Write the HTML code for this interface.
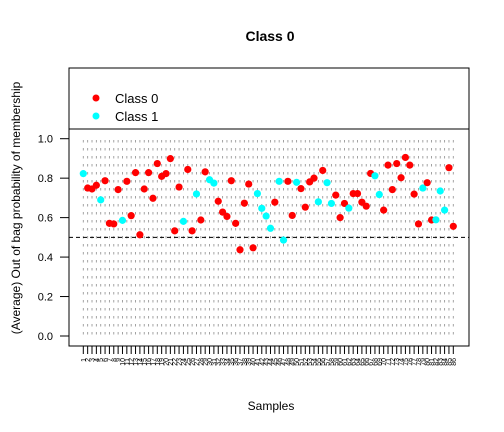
<!DOCTYPE html>
<html><head><meta charset="utf-8"><style>
body{margin:0;background:#fff;}
svg{display:block;font-family:"Liberation Sans",sans-serif;}
</style></head><body>
<svg id="c" width="504" height="432" viewBox="0 0 504 432">
<text x="270" y="41" text-anchor="middle" font-size="14" font-weight="bold">Class 0</text>
<text x="271" y="410" text-anchor="middle" font-size="12">Samples</text>
<text transform="translate(20,208) rotate(-90)" text-anchor="middle" font-size="12">(Average) Out of bag probability of membership</text>
<rect x="69" y="68" width="400" height="278" fill="none" stroke="#000"/>
<line x1="69" y1="129" x2="469" y2="129" stroke="#000"/>
<g>
<circle cx="96" cy="98" r="3.5" fill="#ff0000"/>
<text x="115" y="103" font-size="13">Class 0</text>
<circle cx="96" cy="116" r="3.5" fill="#00ffff"/>
<text x="115" y="121" font-size="13">Class 1</text>
</g>
<g id="grid"></g><g id="yax"></g><g id="xax"></g><g id="pts"></g>
</svg>
<script>
const values=[.823,.75,.745,.764,.69,.787,.571,.568,.742,.586,.784,.61,.828,.513,.745,.828,.698,.874,.809,.823,.899,.533,.755,.581,.844,.533,.72,.588,.832,.792,.775,.683,.628,.606,.787,.571,.437,.673,.77,.447,.722,.647,.608,.546,
.678,.784,.486,.784,.611,.779,.747,.653,.781,.8,.68,.839,.777,.672,.714,.6,.672,.648,.722,.722,.678,.658,.824,.812,.717,.638,.866,.742,.874,.802,.905,.866,.719,.568,.75,.777,.588,.589,.735,.638,.853,.556];
const classes=[1,0,0,0,1,0,0,0,0,1,0,0,0,0,0,0,0,0,0,0,0,0,0,1,0,0,1,0,0,1,1,0,0,0,0,0,0,0,0,0,1,1,1,1,
0,1,1,0,0,1,0,0,0,0,1,0,1,1,0,0,0,1,0,0,0,0,0,1,1,0,0,0,0,0,0,0,0,0,1,0,0,1,1,1,0,0];
const yTicks=[0,0.2,0.4,0.6,0.8,1.0];
const yTickLabels=["0.0","0.2","0.4","0.6","0.8","1.0"];
const NS="http://www.w3.org/2000/svg";
const N=values.length;
const xs=i=>83.3+i*(453.3-83.3)/(N-1);
const ys=v=>336-v*197.3;
function mk(tag,a,parent){const e=document.createElementNS(NS,tag);for(const k in a)e.setAttribute(k,a[k]);document.getElementById(parent).appendChild(e);return e;}
for(let i=0;i<N;i++){
 const g=mk('line',{x1:xs(i),x2:xs(i),y1:140,y2:336,stroke:'#999','stroke-width':0.9,'stroke-dasharray':'2.5,5.5'},'grid');
 
 
 const t=mk('line',{x1:xs(i),x2:xs(i),y1:346,y2:354,stroke:'#000'},'xax');
 
 
 const l=mk('text',{transform:`translate(${xs(i)+2.5},358) rotate(-90)`,'text-anchor':'end','font-size':7},'xax');
 l.textContent=String(i+1);
 
 
}
const d=mk('line',{x1:69,x2:469,y1:ys(0.5),y2:ys(0.5),stroke:'#000','stroke-dasharray':'4,3'},'grid');


yTicks.forEach((v,i)=>{
 const t=mk('line',{x1:60,x2:69,y1:ys(v),y2:ys(v),stroke:'#000'},'yax');
 
 
 const l=mk('text',{x:53,y:ys(v)+4,'text-anchor':'end','font-size':11},'yax');
 l.textContent=yTickLabels[i];
 
 
});
for(let i=0;i<N;i++){
 const c=mk('circle',{cx:xs(i),cy:ys(values[i]),r:3.6,fill:classes[i]?'#00ffff':'#ff0000'},'pts');
 
 
}
</script>
</body></html>
